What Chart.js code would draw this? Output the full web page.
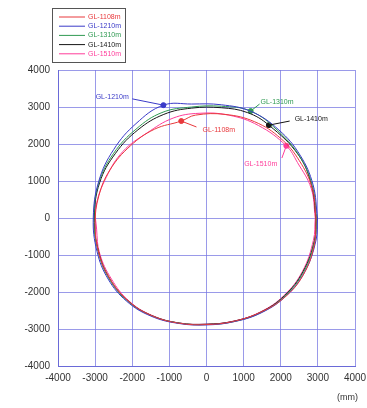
<!DOCTYPE html>
<html lang="en">
<head>
<meta charset="UTF-8">
<title>GL section profiles</title>
<script src="https://cdn.jsdelivr.net/npm/chart.js"></script>
<style>
  html, body { margin: 0; padding: 0; background: #fff; }
  #wrap { width: 367px; height: 408px; }
</style>
</head>
<body>
<div id="wrap"><canvas id="profileChart" width="367" height="408"></canvas></div>
<script>
// Series labels and colours
const seriesNames = ['GL-1108m', 'GL-1210m', 'GL-1310m', 'GL-1410m', 'GL-1510m'];
const seriesColors = ['#e8383c', '#3a3ac8', '#2f9a52', '#151515', '#ff3c9a'];

// Section outlines (mm)
const x1108 = [2950, 2850, 2500, 2000, 1300, 500, -300, -680, -1400, -2050, -2600, -2900, -3000, -2900, -2600, -2100, -1450, -700, 0, 700, 1450, 2100, 2600, 2900, 2950];
const y1108 = [0, 800, 1550, 2150, 2600, 2800, 2780, 2620, 2400, 1950, 1300, 600, -150, -950, -1650, -2250, -2650, -2850, -2880, -2800, -2550, -2150, -1550, -750, 0];

const x1210 = [2990, 2870, 2520, 1950, 1200, 400, -400, -1160, -1900, -2500, -2900, -3050, -2950, -2650, -2150, -1500, -750, 0, 750, 1500, 2150, 2650, 2950, 2990];
const y1210 = [0, 900, 1700, 2380, 2880, 3060, 3080, 3050, 2550, 1850, 1000, 0, -900, -1650, -2250, -2650, -2850, -2890, -2800, -2550, -2100, -1450, -600, 0];

const x1310 = [2970, 2850, 2500, 1900, 1190, 400, -400, -1200, -1900, -2500, -2900, -3030, -2920, -2620, -2120, -1480, -740, 0, 740, 1480, 2120, 2620, 2920, 2970];
const y1310 = [0, 880, 1680, 2380, 2890, 3020, 3000, 2850, 2400, 1750, 950, 0, -900, -1650, -2250, -2640, -2840, -2880, -2800, -2550, -2100, -1450, -600, 0];

const x1410 = [2950, 2830, 2480, 1680, 1100, 400, -400, -1150, -1850, -2450, -2880, -3020, -2910, -2600, -2100, -1470, -730, 0, 730, 1470, 2100, 2600, 2910, 2950];
const y1410 = [0, 880, 1700, 2510, 2850, 2980, 2970, 2800, 2380, 1750, 950, 0, -900, -1650, -2250, -2640, -2840, -2870, -2790, -2540, -2100, -1450, -600, 0];

const x1510 = [2930, 2820, 2450, 2150, 1400, 600, -200, -900, -1600, -2250, -2700, -2980, -2960, -2880, -2560, -2080, -1450, -720, 0, 720, 1450, 2080, 2580, 2880, 2930];
const y1510 = [0, 800, 1500, 1950, 2500, 2780, 2830, 2700, 2300, 1800, 1100, 300, -300, -950, -1650, -2250, -2640, -2840, -2870, -2790, -2540, -2100, -1450, -600, 0];

// Labelled marker points, one per series
const markX = [-680, -1160, 1190, 1680, 2150];
const markY = [2620, 3050, 2890, 2510, 1950];

// Axis ticks
const tickValues = [-4000, -3000, -2000, -1000, 0, 1000, 2000, 3000, 4000];

const outlines = [[x1108, y1108], [x1210, y1210], [x1310, y1310], [x1410, y1410], [x1510, y1510]];

const lineSets = outlines.map((o, i) => ({
    label: seriesNames[i],
    data: o[0].map((x, k) => ({ x: x, y: o[1][k] })),
    showLine: true,
    borderColor: seriesColors[i],
    borderWidth: 1,
    pointRadius: 0,
    tension: 0.4,
    fill: false
}));

lineSets.push({
    label: 'markers',
    data: markX.map((x, k) => ({ x: x, y: markY[k] })),
    showLine: false,
    pointRadius: 2.5,
    pointBackgroundColor: seriesColors,
    pointBorderColor: seriesColors
});

// callout text placement (label centre, leader start) in data units
const callouts = [
    { text: 'GL-1108m', lx: 330, ly: 2380, sx: -270, sy: 2460 },
    { text: 'GL-1210m', lx: -2540, ly: 3270, sx: -2000, sy: 3220 },
    { text: 'GL-1310m', lx: 1900, ly: 3140, sx: 1430, sy: 3080 },
    { text: 'GL-1410m', lx: 2820, ly: 2680, sx: 2240, sy: 2620 },
    { text: 'GL-1510m', lx: 1460, ly: 1460, sx: 2030, sy: 1620 }
];

const extras = {
    id: 'extras',
    afterDatasetsDraw(chart) {
        const ctx = chart.ctx;
        const xs = chart.scales.x, ys = chart.scales.y;
        ctx.save();
        ctx.font = '7px "Liberation Sans", Arial, sans-serif';
        ctx.textAlign = 'center';
        ctx.textBaseline = 'middle';
        callouts.forEach((c, i) => {
            ctx.strokeStyle = seriesColors[i];
            ctx.lineWidth = 1;
            ctx.beginPath();
            ctx.moveTo(xs.getPixelForValue(c.sx), ys.getPixelForValue(c.sy));
            ctx.lineTo(xs.getPixelForValue(markX[i]), ys.getPixelForValue(markY[i]));
            ctx.stroke();
            ctx.fillStyle = seriesColors[i];
            ctx.fillText(c.text, xs.getPixelForValue(c.lx), ys.getPixelForValue(c.ly));
        });

        // boxed legend, top left
        ctx.strokeStyle = '#555';
        ctx.lineWidth = 1;
        ctx.strokeRect(52.5, 8.5, 73, 54);
        ctx.textAlign = 'left';
        seriesNames.forEach((n, i) => {
            const yy = 17 + i * 9.2;
            ctx.strokeStyle = seriesColors[i];
            ctx.beginPath();
            ctx.moveTo(59, yy);
            ctx.lineTo(85, yy);
            ctx.stroke();
            ctx.fillStyle = seriesColors[i];
            ctx.fillText(n, 88, yy);
        });

        // unit note
        ctx.fillStyle = '#333';
        ctx.font = '9px "Liberation Sans", Arial, sans-serif';
        ctx.textAlign = 'right';
        ctx.fillText('(mm)', 358, 398);
        ctx.restore();
    }
};

const tickFont = { family: '"Liberation Sans", Arial, sans-serif', size: 10 };
const gridColor = 'rgba(120, 120, 225, 0.75)';
const plainTick = v => String(v);

new Chart(document.getElementById('profileChart'), {
    type: 'scatter',
    data: { datasets: lineSets },
    options: {
        responsive: false,
        animation: false,
        layout: { padding: { top: 70, right: 12, left: 0, bottom: 0 } },
        plugins: {
            legend: { display: false },
            tooltip: { enabled: false }
        },
        scales: {
            x: {
                type: 'linear',
                min: -4000,
                max: 4000,
                afterBuildTicks: s => { s.ticks = tickValues.map(v => ({ value: v })); },
                afterFit: s => { s.height = 42; s.paddingLeft = 0; s.paddingRight = 0; },
                ticks: { color: '#333', font: tickFont, padding: 6, maxRotation: 0, autoSkip: false, callback: plainTick },
                grid: { color: gridColor, lineWidth: 1, drawTicks: false },
                border: { color: '#6a6ad8', width: 1 }
            },
            y: {
                type: 'linear',
                min: -4000,
                max: 4000,
                afterBuildTicks: s => { s.ticks = tickValues.map(v => ({ value: v })); },
                afterFit: s => { s.width = 58; s.paddingTop = 0; s.paddingBottom = 0; },
                ticks: { color: '#333', font: tickFont, padding: 8, autoSkip: false, callback: plainTick },
                grid: { color: gridColor, lineWidth: 1, drawTicks: false },
                border: { color: '#6a6ad8', width: 1 }
            }
        }
    },
    plugins: [extras]
});
</script>
</body>
</html>
